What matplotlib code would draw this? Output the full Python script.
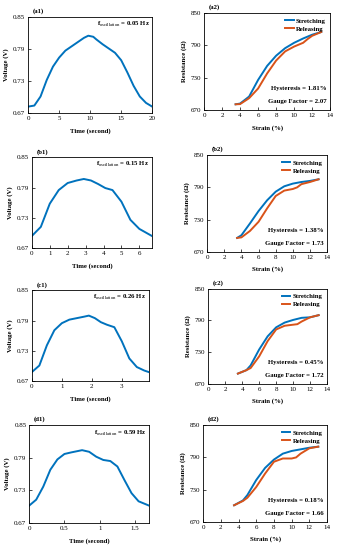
import matplotlib
matplotlib.use("Agg")
import matplotlib.pyplot as plt

plt.rcParams['font.family'] = ['Liberation Serif', 'DejaVu Serif']
plt.rcParams['mathtext.fontset'] = 'custom'
plt.rcParams['mathtext.rm'] = 'Liberation Serif'
plt.rcParams['mathtext.bf'] = 'Liberation Serif:bold'

BLUE = '#0072BD'
ORANGE = '#D95319'

# ---- left column: voltage vs time ----
t_a = [0, 1, 2, 3, 4, 5, 6, 7, 8, 9, 9.7, 10.5, 11, 12, 13, 14, 15, 16, 17, 18, 19, 20]
v_a = [0.682, 0.684, 0.701, 0.732, 0.757, 0.774, 0.787, 0.795, 0.803, 0.811, 0.815, 0.813,
       0.808, 0.799, 0.791, 0.783, 0.769, 0.746, 0.721, 0.701, 0.689, 0.682]

t_b = [0, 0.5, 1, 1.5, 2, 2.5, 2.9, 3.3, 3.7, 4.1, 4.5, 5, 5.5, 6, 6.5, 6.7]
v_b = [0.694, 0.712, 0.758, 0.785, 0.799, 0.804, 0.807, 0.804, 0.797, 0.789, 0.785, 0.762,
       0.726, 0.708, 0.698, 0.694]

t_c = [0, 0.25, 0.5, 0.75, 1, 1.25, 1.5, 1.75, 1.9, 2.1, 2.3, 2.5, 2.75, 3, 3.25, 3.5, 3.75, 3.9]
v_c = [0.688, 0.701, 0.741, 0.771, 0.785, 0.792, 0.795, 0.798, 0.800, 0.795, 0.787, 0.782,
       0.777, 0.749, 0.715, 0.698, 0.691, 0.688]

t_d = [0, 0.1, 0.2, 0.3, 0.4, 0.5, 0.6, 0.75, 0.85, 0.95, 1.05, 1.15, 1.25, 1.35, 1.45, 1.55, 1.7]
v_d = [0.702, 0.713, 0.737, 0.768, 0.787, 0.797, 0.800, 0.804, 0.801, 0.792, 0.786, 0.784,
       0.774, 0.749, 0.725, 0.710, 0.702]

# ---- right column: resistance vs strain ----
s_a = [3.5, 4, 5, 6, 7, 8, 9, 10, 11, 12, 13]
st_a = [680.6, 682, 695, 726, 752, 771, 785, 795, 803, 810, 815]
s_a_rel = [3.5, 4, 5, 6, 7, 8, 9, 10, 11, 11.5, 12, 13]
re_a = [680.6, 681, 692, 710, 738, 762, 779, 788, 795, 802, 808, 815]

s_b = [3.5, 4, 5, 6, 7, 8, 9, 10, 11, 12, 13]
st_b = [696, 701, 723, 746, 766, 782, 792, 797, 800, 802, 805]
s_b_rel = [3.5, 4, 5, 6, 7, 8, 9, 10, 10.5, 11, 12, 13]
re_b = [696, 697, 709, 726, 751, 774, 784, 787, 790, 796, 800, 805]

s_c = [3.5, 4.5, 5, 6, 7, 8, 9, 10, 11, 12, 13]
st_c = [689.5, 696, 705, 735, 760, 777, 786, 791, 795, 796, 800]
s_c_rel = [3.5, 4.5, 5, 6, 7, 8, 9, 10, 10.5, 11, 12, 13]
re_c = [689.5, 696, 700, 722, 751, 773, 780, 782, 783, 788, 796, 800]

s_d = [3.5, 4.5, 5, 6, 7, 8, 9, 10, 11, 12, 13]
st_d = [701, 710, 720, 748, 770.5, 786, 797, 802, 805, 808, 810]
s_d_rel = [3.5, 4.5, 5, 6, 7, 8, 9, 10, 10.5, 11, 12, 13]
re_d = [701, 709, 715, 735, 760, 782, 788, 788, 790, 797, 807, 810]

freqs = ['0.05', '0.15', '0.26', '0.59']
hysteresis = ['1.81', '1.38', '0.45', '0.18']
gauge = ['2.07', '1.73', '1.72', '1.66']
left_labels = ['(a1)', '(b1)', '(c1)', '(d1)']
right_labels = ['(a2)', '(b2)', '(c2)', '(d2)']
left_xticks = [[0, 5, 10, 15, 20], [0, 1, 2, 3, 4, 5, 6], [0, 1, 2, 3], [0, 0.5, 1, 1.5]]
left_xlim = [20, 6.7, 3.9, 1.7]
v_ticks = [0.67, 0.73, 0.79, 0.85]
r_ticks = [670, 730, 790, 850]
s_ticks = [0, 2, 4, 6, 8, 10, 12, 14]

left_data = [(t_a, v_a), (t_b, v_b), (t_c, v_c), (t_d, v_d)]
right_data = [(s_a, st_a, s_a_rel, re_a), (s_b, st_b, s_b_rel, re_b),
              (s_c, st_c, s_c_rel, re_c), (s_d, st_d, s_d_rel, re_d)]

left_pos = [[0.083, 0.7945, 0.366, 0.1745], [0.094, 0.549, 0.354, 0.165],
            [0.094, 0.307, 0.345, 0.165], [0.086, 0.049, 0.354, 0.178]]
right_pos = [[0.602, 0.800, 0.372, 0.176], [0.611, 0.542, 0.354, 0.176],
             [0.614, 0.302, 0.351, 0.173], [0.599, 0.051, 0.366, 0.176]]

FS = 4.9
TFS = 5.0
LW = 1.4

fig = plt.figure(figsize=(3.39, 5.50), dpi=100)

def style(ax):
    ax.tick_params(direction='in', labelsize=TFS, length=2, width=0.5, pad=2,
                   top=False, right=False)
    for sp in ax.spines.values():
        sp.set_linewidth(0.6)

for i in range(4):
    ax = fig.add_axes(left_pos[i])
    t, v = left_data[i]
    ax.plot(t, v, color=BLUE, lw=LW)
    ax.set_xlim(0, left_xlim[i])
    ax.set_ylim(0.67, 0.85)
    ax.set_yticks(v_ticks)
    ax.set_yticklabels(['0.67', '0.73', '0.79', '0.85'])
    ax.set_xticks(left_xticks[i])
    ax.set_xticklabels([('%g' % x) for x in left_xticks[i]])
    ax.set_xlabel('Time (second)', fontsize=FS, fontweight='bold', labelpad=5)
    ax.set_ylabel('Voltage (V)', fontsize=FS, fontweight='bold', labelpad=3)
    style(ax)
    ax.text(0.04, 1.03, left_labels[i], transform=ax.transAxes, fontsize=FS,
            fontweight='bold', ha='left', va='bottom')
    ax.text(0.98, 0.92, r'$\mathbf{f}_{\mathrm{oscillation}}$ = ' + freqs[i] + ' Hz',
            transform=ax.transAxes, fontsize=FS, fontweight='bold', ha='right', va='center')

for i in range(4):
    ax = fig.add_axes(right_pos[i])
    s1, y1, s2, y2 = right_data[i]
    ax.plot(s1, y1, color=BLUE, lw=LW, label='Stretching')
    ax.plot(s2, y2, color=ORANGE, lw=LW, label='Releasing')
    ax.set_xlim(0, 14)
    ax.set_ylim(670, 850)
    ax.set_yticks(r_ticks)
    ax.set_xticks(s_ticks)
    ax.set_xlabel('Strain (%)', fontsize=FS, fontweight='bold', labelpad=5)
    ax.set_ylabel('Resistance (Ω)', fontsize=FS, fontweight='bold', labelpad=3)
    style(ax)
    ax.text(0.04, 1.03, right_labels[i], transform=ax.transAxes, fontsize=FS,
            fontweight='bold', ha='left', va='bottom')
    ax.legend(loc='upper right', frameon=False, handlelength=1.3,
              borderaxespad=0.3, labelspacing=0.35, handletextpad=0.3,
              prop={'weight': 'bold', 'size': FS})
    ax.text(0.97, 0.22, 'Hysteresis = ' + hysteresis[i] + '%', transform=ax.transAxes,
            fontsize=FS, fontweight='bold', ha='right', va='center')
    ax.text(0.97, 0.09, 'Gauge Factor = ' + gauge[i], transform=ax.transAxes,
            fontsize=FS, fontweight='bold', ha='right', va='center')

fig.savefig('out.png', dpi=100)
